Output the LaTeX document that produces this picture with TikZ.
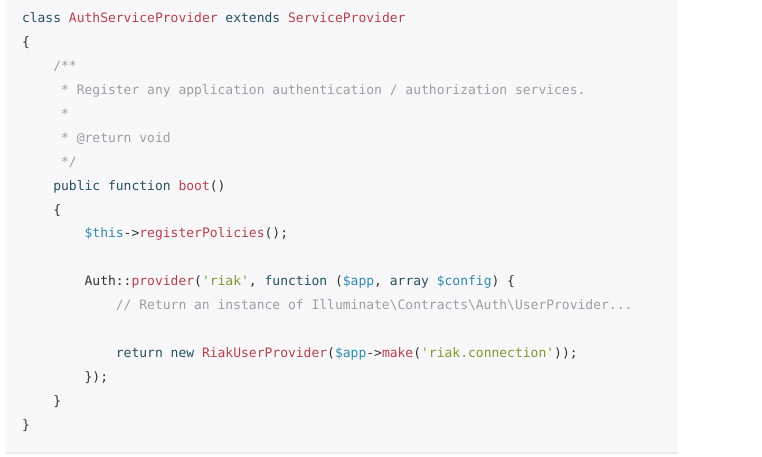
\documentclass[tikz,border=0pt]{standalone}
\usepackage{fontspec}
\setmonofont{DejaVu Sans Mono}
\definecolor{bgc}{HTML}{F8F8FA}
\definecolor{bgline}{HTML}{ECECF0}
\definecolor{kwc}{HTML}{25505F}
\definecolor{clsc}{HTML}{B8404B}
\definecolor{varc}{HTML}{2D8AB0}
\definecolor{strc}{HTML}{7A9A2E}
\definecolor{cmc}{HTML}{9E9EA2}
\definecolor{txtc}{HTML}{333336}
\newcommand{\kw}[1]{\textcolor{kwc}{#1}}
\newcommand{\cls}[1]{\textcolor{clsc}{#1}}
\newcommand{\vr}[1]{\textcolor{varc}{#1}}
\newcommand{\st}[1]{\textcolor{strc}{#1}}
\newcommand{\cm}[1]{\textcolor{cmc}{#1}}
\newcommand{\myq}{\char39\relax}
\tikzset{
  codeline/.style={anchor=base west, inner sep=0pt, outer sep=0pt, font=\ttfamily\fontsize{13}{15}\selectfont, text=txtc},
}
\begin{document}
\begin{tikzpicture}[x=1pt,y=-1pt]
\useasboundingbox (0,0) rectangle (762,456);
\fill[bgc] (6,0) rectangle (678,452);
\fill[bgline] (6,452) rectangle (678,454);
\def\cw{7.826}
\def\lh{23.94}
\def\by{22.5}
\node[codeline] (l0) at (22+0*\cw, \by+0*\lh) {\kw{class} \cls{AuthServiceProvider} \kw{extends} \cls{ServiceProvider}};
\node[codeline] (l1) at (22+0*\cw, \by+1*\lh) {\{};
\node[codeline] (l2) at (22+4*\cw, \by+2*\lh) {\cm{/**}};
\node[codeline] (l3) at (22+5*\cw, \by+3*\lh) {\cm{* Register any application authentication / authorization services.}};
\node[codeline] (l4) at (22+5*\cw, \by+4*\lh) {\cm{*}};
\node[codeline] (l5) at (22+5*\cw, \by+5*\lh) {\cm{* @return void}};
\node[codeline] (l6) at (22+5*\cw, \by+6*\lh) {\cm{*/}};
\node[codeline] (l7) at (22+4*\cw, \by+7*\lh) {\kw{public function} \cls{boot}()};
\node[codeline] (l8) at (22+4*\cw, \by+8*\lh) {\{};
\node[codeline] (l9) at (22+8*\cw, \by+9*\lh) {\vr{\$this}->\cls{registerPolicies}();};
\node[codeline] (l11) at (22+8*\cw, \by+11*\lh) {Auth::\cls{provider}(\st{\myq riak\myq}, \kw{function} (\vr{\$app}, \kw{array} \vr{\$config}) \{};
\node[codeline] (l12) at (22+12*\cw, \by+12*\lh) {\cm{// Return an instance of Illuminate\textbackslash Contracts\textbackslash Auth\textbackslash UserProvider...}};
\node[codeline] (l14) at (22+12*\cw, \by+14*\lh) {\kw{return new} \cls{RiakUserProvider}(\vr{\$app}->\cls{make}(\st{\myq riak.connection\myq}));};
\node[codeline] (l15) at (22+8*\cw, \by+15*\lh) {\});};
\node[codeline] (l16) at (22+4*\cw, \by+16*\lh) {\}};
\node[codeline] (l17) at (22+0*\cw, \by+17*\lh) {\}};
\end{tikzpicture}
\end{document}
